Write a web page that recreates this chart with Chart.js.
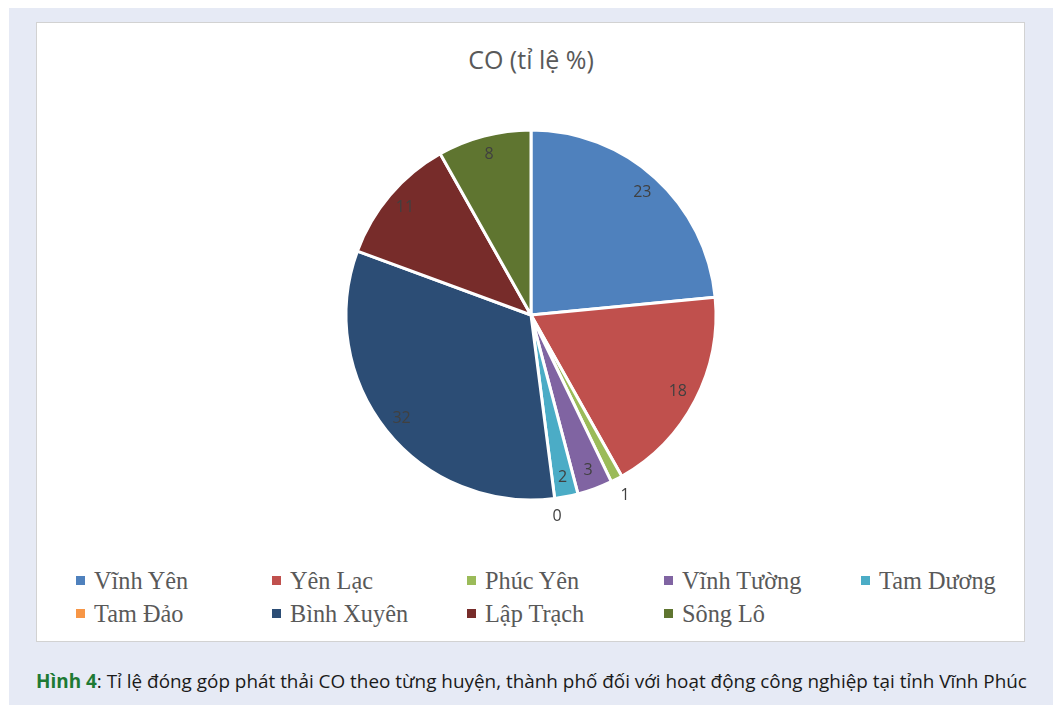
<!DOCTYPE html>
<html lang="vi">
<head>
<meta charset="utf-8">
<title>CO (tỉ lệ %)</title>
<script src="https://cdn.jsdelivr.net/npm/chart.js@4/dist/chart.umd.min.js"></script>
<style>
    html, body {
        margin: 0;
        padding: 0;
        background: #ffffff;
        width: 1059px;
        height: 705px;
        overflow: hidden;
    }
    .panel {
        position: absolute;
        left: 9px;
        top: 8px;
        width: 1044px;
        height: 697px;
        background: #e6eaf5;
    }
    .chart-box {
        position: absolute;
        left: 36px;
        top: 22px;
        width: 987px;
        height: 618px;
        background: #ffffff;
        border: 1px solid #d2d2d2;
    }
    .chart-title {
        position: absolute;
        left: 0;
        top: 42px;
        width: 1062px;
        text-align: center;
        font-family: "Open Sans", "Liberation Sans", sans-serif;
        font-size: 25px;
        color: #595959;
    }
    .pie-wrap {
        position: absolute;
        left: 311px;
        top: 95px;
        width: 440px;
        height: 440px;
    }
    .legend {
        position: absolute;
        left: 0;
        top: 0;
        font-family: "Liberation Serif", "DejaVu Serif", serif;
        font-size: 24.3px;
        color: #595959;
    }
    .legend-item {
        position: absolute;
        white-space: nowrap;
        line-height: 26px;
    }
    .legend-item .swatch {
        display: inline-block;
        width: 9px;
        height: 9px;
        margin-right: 9px;
        vertical-align: 4px;
    }
    .caption {
        position: absolute;
        left: 0;
        top: 668px;
        width: 1063px;
        text-align: center;
        font-family: "Open Sans", "Noto Sans", sans-serif;
        font-size: 18.9px;
        color: #1a1a1a;
        white-space: nowrap;
    }
    .caption b {
        color: #1e7a34;
    }
</style>
</head>
<body>
<div class="panel"></div>
<div class="chart-box"></div>
<div class="chart-title">CO (tỉ lệ %)</div>
<div class="pie-wrap"><canvas id="co-chart"></canvas></div>
<div class="legend" id="co-legend"></div>
<div class="caption"><b>Hình 4</b>: Tỉ lệ đóng góp phát thải CO theo từng huyện, thành phố đối với hoạt động công nghiệp tại tỉnh Vĩnh Phúc</div>

<script>
const districts = ['Vĩnh Yên', 'Yên Lạc', 'Phúc Yên', 'Vĩnh Tường', 'Tam Dương', 'Tam Đảo', 'Bình Xuyên', 'Lập Trạch', 'Sông Lô'];
const coShare = [23, 18, 1, 3, 2, 0, 32, 11, 8];
const sliceColors = ['#4f81bd', '#c0504d', '#9bbb59', '#8064a2', '#4bacc6', '#f79646', '#2c4d75', '#772c2a', '#5f7530'];

// value labels: inside near the rim, tiny slices pushed outside
const sliceLabels = {
    id: 'sliceLabels',
    afterDatasetsDraw(chart) {
        const ctx = chart.ctx;
        const meta = chart.getDatasetMeta(0);
        ctx.save();
        ctx.font = '16px "Open Sans", "Liberation Sans", sans-serif';
        ctx.fillStyle = '#404040';
        ctx.textAlign = 'center';
        ctx.textBaseline = 'middle';
        meta.data.forEach((arc, i) => {
            const { x, y, startAngle, endAngle, outerRadius } = arc.getProps(['x', 'y', 'startAngle', 'endAngle', 'outerRadius'], true);
            const mid = (startAngle + endAngle) / 2;
            const r = coShare[i] <= 1 ? outerRadius * 1.1 : outerRadius * 0.895;
            ctx.fillText(String(coShare[i]), x + Math.cos(mid) * r, y + Math.sin(mid) * r);
        });
        ctx.restore();
    }
};

const chart = new Chart(document.getElementById('co-chart'), {
    type: 'pie',
    data: {
        labels: districts,
        datasets: [{
            data: coShare,
            backgroundColor: sliceColors,
            borderColor: '#ffffff',
            borderWidth: 3,
            hoverOffset: 0
        }]
    },
    options: {
        responsive: true,
        maintainAspectRatio: false,
        animation: false,
        radius: 185,
        layout: { padding: 0 },
        plugins: {
            legend: { display: false },
            tooltip: { enabled: false }
        }
    },
    plugins: [sliceLabels]
});

// legend laid out in fixed columns, two rows
const legendEl = document.getElementById('co-legend');
const colLeft = [76, 272, 467, 664, 861];
const rowTop = [568, 601];
chart.options.plugins.legend.labels.generateLabels(chart).forEach((item, i) => {
    const div = document.createElement('div');
    div.className = 'legend-item';
    div.style.left = colLeft[i % 5] + 'px';
    div.style.top = rowTop[Math.floor(i / 5)] + 'px';
    div.innerHTML = `<span class="swatch" style="background:${item.fillStyle}"></span>${item.text}`;
    legendEl.appendChild(div);
});
</script>
</body>
</html>
